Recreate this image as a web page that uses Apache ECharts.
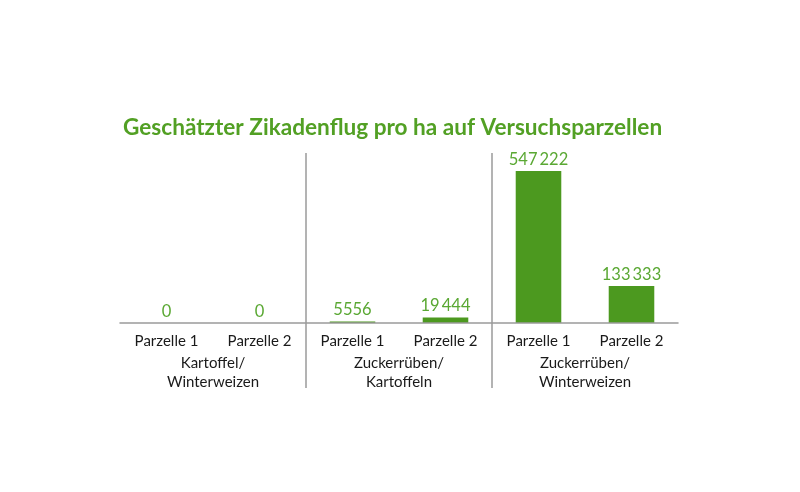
<!DOCTYPE html>
<html>
<head>
<meta charset="utf-8">
<script src="https://cdn.jsdelivr.net/npm/echarts@6/dist/echarts.min.js"></script>
<style>
  html, body { margin: 0; padding: 0; background: #fff; }
  #chart { width: 800px; height: 492px; }
</style>
</head>
<body>
<div id="chart"></div>
<script>
// Daten
const parzellen = ['Parzelle 1', 'Parzelle 2', 'Parzelle 1', 'Parzelle 2', 'Parzelle 1', 'Parzelle 2']
const gruppen = ['Kartoffel/\nWinterweizen', 'Zuckerrüben/\nKartoffeln', 'Zuckerrüben/\nWinterweizen']
const zikaden = [0, 0, 5556, 19444, 547222, 133333]

const green = '#4c991f'
const labelGreen = '#5aa833'
const grey = '#9a9a9a'
const font = 'Lato'

// Tausendertrennung mit schmalem Leerzeichen (erst ab 5 Stellen)
function fmt(v) {
  if (v < 10000) return String(v)
  return String(v).replace(/\B(?=(\d{3})+(?!\d))/g, '\u2009')
}

const chart = echarts.init(document.getElementById('chart'))
chart.setOption({
  animation: false,
  title: {
    text: 'Geschätzter Zikadenflug pro ha auf Versuchsparzellen',
    left: 118,
    top: 111,
    textStyle: {
      color: '#52a024',
      fontFamily: font,
      fontWeight: 'bold',
      fontSize: 22.6,
    },
  },
  grid: [
    { left: 120, right: 122, top: 153, bottom: 169 },
    // nur für die Trennlinien zwischen den Gruppen
    { left: 120, right: 122, top: 153, bottom: 104 },
  ],
  xAxis: [
    {
      type: 'category',
      gridIndex: 0,
      data: parzellen,
      axisLine: { show: true, lineStyle: { color: grey, width: 1.5 } },
      axisTick: { show: false },
      axisLabel: {
        color: '#1a1a1a',
        fontFamily: font,
        fontSize: 15,
        margin: 11,
        interval: 0,
      },
      z: 5,
    },
    {
      type: 'category',
      gridIndex: 1,
      data: gruppen,
      axisLine: { show: false },
      axisTick: { show: false },
      axisLabel: {
        inside: true,
        margin: -4,
        color: '#1a1a1a',
        fontFamily: font,
        fontSize: 15,
        lineHeight: 19,
        interval: 0,
      },
      splitLine: {
        show: true,
        showMinLine: false,
        showMaxLine: false,
        lineStyle: { color: grey, width: 1.5 },
      },
    },
  ],
  yAxis: [
    { type: 'value', gridIndex: 0, min: 0, max: 612000, show: false },
    { type: 'value', gridIndex: 1, show: false },
  ],
  series: [
    {
      type: 'bar',
      xAxisIndex: 0,
      yAxisIndex: 0,
      data: zikaden,
      barWidth: '49%',
      itemStyle: { color: green },
      label: {
        show: true,
        position: 'top',
        distance: 3,
        color: labelGreen,
        fontFamily: font,
        fontSize: 16.5,
        formatter: (p) => fmt(p.value),
      },
    },
  ],
})
</script>
</body>
</html>
